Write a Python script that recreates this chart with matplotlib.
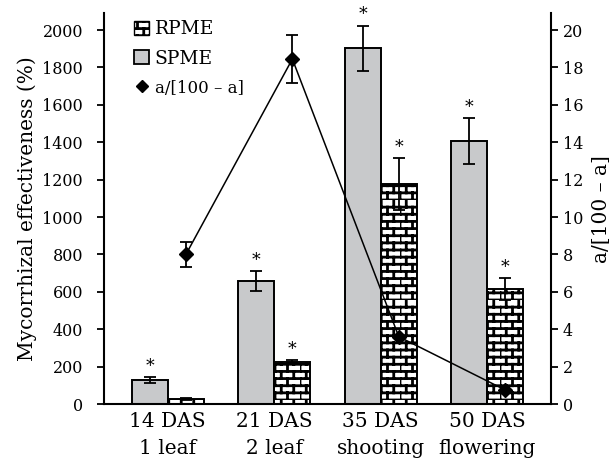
import warnings
import numpy as np
import matplotlib
matplotlib.use('Agg')
import matplotlib.pyplot as plt
import matplotlib.hatch as mhatch
from matplotlib.path import Path
from matplotlib.lines import Line2D
from matplotlib.patches import Patch

warnings.filterwarnings('ignore')

# data
stages = ['14 DAS\n1 leaf', '21 DAS\n2 leaf', '35 DAS\nshooting', '50 DAS\nflowering']
spme = [128, 658, 1902, 1408]
spme_err = [15, 55, 122, 122]
rpme = [27, 226, 1175, 615]
rpme_err = [3, 8, 140, 58]
ratio = [8.0, 18.45, 3.6, 0.75]
ratio_err = [0.65, 1.3, 0, 0]
spme_star = [True, True, True, True]
rpme_star = [False, True, True, True]


# brick hatch pattern ('b')
class BrickHatch(mhatch.HatchPatternBase):
    def __init__(self, hatch, density):
        n = hatch.count('b')
        self.rows = 14 * n
        self.cols = 8
        self.num_vertices = self.rows * 2 + self.rows * self.cols * 2

    def set_vertices_and_codes(self, vertices, codes):
        i = 0
        for k in range(self.rows):
            y0 = k / self.rows
            y1 = (k + 1) / self.rows
            vertices[i] = (0, y0); vertices[i + 1] = (1, y0)
            i += 2
            for j in range(self.cols):
                xx = (j + 0.5 * (k % 2)) / self.cols
                vertices[i] = (xx, y0); vertices[i + 1] = (xx, y1)
                i += 2
        codes[0::2] = Path.MOVETO
        codes[1::2] = Path.LINETO


mhatch._hatch_types.append(BrickHatch)

plt.rcParams['font.family'] = ['DejaVu Serif']
plt.rcParams['hatch.linewidth'] = 2.0
plt.rcParams['hatch.color'] = 'black'

fig = plt.figure(figsize=(6.15, 4.72), dpi=100)
ax = fig.add_axes([0.169, 0.144, 0.727, 0.828])

x = np.arange(len(stages))
w = 0.34
grey = '#c8c9cb'

ax.bar(x - w / 2, spme, w, color=grey, edgecolor='black', linewidth=1.4, zorder=2)
ax.errorbar(x - w / 2, spme, yerr=spme_err, fmt='none', ecolor='black',
            elinewidth=1.3, capsize=4, capthick=1.3, zorder=3)
ax.bar(x + w / 2, rpme, w, color='white', edgecolor='black', hatch='b',
       linewidth=1.4, zorder=2)
ax.errorbar(x + w / 2, rpme, yerr=rpme_err, fmt='none', ecolor='black',
            elinewidth=1.3, capsize=4, capthick=1.3, zorder=3)

for xi, v, e, s in zip(x - w / 2, spme, spme_err, spme_star):
    if s:
        ax.annotate('*', (xi, v + e), xytext=(0, 1.5), textcoords='offset points',
                    ha='center', va='bottom', fontsize=12.5)
for xi, v, e, s in zip(x + w / 2, rpme, rpme_err, rpme_star):
    if s:
        ax.annotate('*', (xi, v + e), xytext=(0, 1.5), textcoords='offset points',
                    ha='center', va='bottom', fontsize=12.5)

ax.set_xlim(-0.6, 3.6)
ax.set_ylim(0, 2090)
ax.set_yticks(np.arange(0, 2001, 200))
ax.set_xticks(x)
ax.set_xticklabels(stages, fontsize=14.5, linespacing=1.5)
ax.tick_params(axis='x', length=0, pad=6)
ax.tick_params(axis='y', labelsize=11.5, width=1.3, length=5, pad=10)
ax.set_ylabel('Mycorrhizal effectiveness (%)', fontsize=14.5, labelpad=4)
ax.spines['top'].set_visible(False)
ax.spines['right'].set_visible(False)
for s in ['left', 'bottom']:
    ax.spines[s].set_linewidth(1.5)

ax2 = ax.twinx()
ax2.errorbar(x + w / 2, ratio, yerr=ratio_err, color='black', marker='D',
             markersize=7, linewidth=1.1, elinewidth=1.3, capsize=4,
             capthick=1.3, zorder=5)
ax2.set_ylim(0, 20.9)
ax2.set_yticks(np.arange(0, 21, 2))
ax2.tick_params(axis='y', labelsize=11.5, width=1.3, length=5)
ax2.set_ylabel('a/[100 – a]', fontsize=14.5, labelpad=6)
ax2.spines['top'].set_visible(False)
ax2.spines['left'].set_visible(False)
ax2.spines['bottom'].set_visible(False)
ax2.spines['right'].set_linewidth(1.5)

handles = [Patch(facecolor='white', edgecolor='black', hatch='b', label='RPME'),
           Patch(facecolor=grey, edgecolor='black', linewidth=1.3, label='SPME'),
           Line2D([], [], color='black', marker='D', linestyle='none',
                  markersize=6, label='a/[100 – a]')]
leg = ax2.legend(handles=handles, loc='upper left', bbox_to_anchor=(0.03, 1.025),
                 frameon=False, fontsize=13.5, handlelength=0.8, handleheight=0.8,
                 handletextpad=0.3, labelspacing=0.6)
leg.get_texts()[2].set_fontsize(12)

fig.savefig('out.png', dpi=100)
